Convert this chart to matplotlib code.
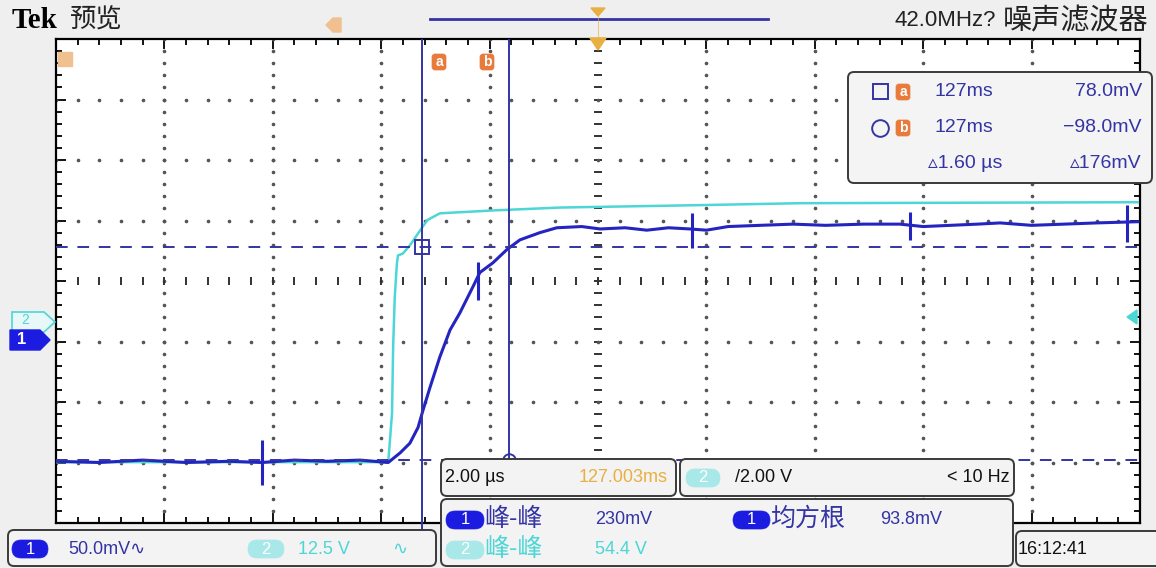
import matplotlib.pyplot as plt
from matplotlib.patches import FancyBboxPatch, Polygon
import numpy as np

plt.rcParams['font.family'] = ['Liberation Sans', 'Noto Sans CJK SC', 'DejaVu Sans']

# scope settings
time_per_div = 2.0      # us / div
ch1_per_div = 50.0      # mV / div
ch2_per_div = 12.5      # V / div
ch1_offset = -1.0       # div
ch2_offset = -0.65      # div

# channel 1 trace (us, mV)
ch1_t = [-10.0, -9.2, -8.4, -7.6, -6.8, -6.2, -5.6, -5.0, -4.39, -3.87, -3.65, -3.47, -3.32,
         -3.23, -3.10, -2.92, -2.73, -2.55, -2.31, -2.18, -1.94, -1.68, -1.44, -1.07, -0.76,
         -0.3, 0.04, 0.5, 0.9, 1.3, 1.70, 2.0, 2.4, 2.99, 3.6, 4.2, 4.9, 5.57, 6.0, 6.5, 7.0,
         7.42, 8.0, 8.6, 9.2, 9.96]
ch1_mv = [-99, -100, -98, -100, -99, -100, -98, -99, -98, -100, -92, -84, -71,
          -57, -38, -13, 9.5, 23.5, 45, 57, 65, 76, 84, 90, 94,
          95, 93, 94, 92, 94, 93, 92, 95, 96, 97, 96, 97, 97, 95, 96, 97,
          98, 96, 97, 98, 99]

# glitches on channel 1 (us, low mV, high mV)
ch1_spike_t = [-6.2, -2.21, 1.73, 5.76, 9.76]
ch1_spike_lo = [-119, 34, 77, 84, 82]
ch1_spike_hi = [-81, 66, 106, 107, 113]

# channel 2 trace (us, V)
ch2_t = [-10.0, -3.87, -3.80, -3.78, -3.75, -3.71, -3.69, -3.60, -3.47, -3.28, -3.15,
         -2.92, -2.60, -1.94, -0.70, 1.88, 3.73, 9.96]
ch2_v = [-29.3, -29.3, -19.2, -5.6, 4.8, 11.8, 13.4, 13.8, 15.5, 18.6, 20.7,
         22.1, 22.3, 22.7, 23.3, 23.8, 24.2, 24.4]

cursor_t = [-3.25, -1.65]
cursor_mv = [78.0, -98.0]

BLUE = '#2424c0'
CUR = '#3434a4'
CYAN = '#4cd6d6'
ORANGE = '#e87a3c'
GOLD = '#e8b040'
BG = '#efefef'

W, H = 1156, 568
L, R, T, B = 56, 1140, 39, 523

fig = plt.figure(figsize=(W / 100, H / 100), dpi=100, facecolor=BG)
ax = fig.add_axes([L / W, 1 - B / H, (R - L) / W, (B - T) / H])
ax.set_facecolor('white')
ax.set_xlim(-10, 10)
ax.set_ylim(-4, 4)
ax.set_xticks(np.arange(-10, 10.1, 2))
ax.set_xticks(np.arange(-10, 10.1, 0.4), minor=True)
ax.set_yticks(np.arange(-4, 4.1, 1))
ax.set_yticks(np.arange(-4, 4.1, 0.2), minor=True)
ax.tick_params(which='both', direction='in', top=True, right=True,
               labelbottom=False, labelleft=False, color='black', width=1.3)
ax.tick_params(which='major', length=7)
ax.tick_params(which='minor', length=4)
for s in ax.spines.values():
    s.set_linewidth(1.6)

# dotted graticule
for xv in np.arange(-8, 9, 2):
    ys = np.arange(-4, 4.01, 0.2)
    if xv == 0:
        ax.plot([0] * len(ys), ys, ls='none', marker='_', ms=6, mew=1.4, color='#333333')
    else:
        ax.plot([xv] * len(ys), ys, ls='none', marker='o', ms=1.6, color='#555555')
for yv in np.arange(-3, 4, 1):
    xs = np.arange(-10, 10.01, 0.4)
    if yv == 0:
        ax.plot(xs, [0] * len(xs), ls='none', marker='|', ms=6, mew=1.4, color='#333333')
    else:
        ax.plot(xs, [yv] * len(xs), ls='none', marker='o', ms=1.6, color='#555555')

# traces
ch2_div = [v / ch2_per_div + ch2_offset for v in ch2_v]
ch1_div = [v / ch1_per_div + ch1_offset for v in ch1_mv]
ax.plot(ch2_t, ch2_div, color=CYAN, lw=1.8, zorder=3)
ax.plot(ch1_t, ch1_div, color=BLUE, lw=2.2, zorder=4)
ax.vlines(ch1_spike_t,
          [v / ch1_per_div + ch1_offset for v in ch1_spike_lo],
          [v / ch1_per_div + ch1_offset for v in ch1_spike_hi],
          color=BLUE, lw=2.2, zorder=4)

# cursors
cur_div = [v / ch1_per_div + ch1_offset for v in cursor_mv]
ax.vlines(cursor_t[0], -4.12, 4, color=CUR, lw=1.4, zorder=5, clip_on=False)
ax.vlines(cursor_t[1], cur_div[1], 4, color=CUR, lw=1.4, zorder=5)
for y in cur_div:
    ax.axhline(y, color=CUR, lw=1.4, ls=(0, (6, 5)), zorder=5)
ax.plot(cursor_t[0], cur_div[0], marker='s', ms=10, mfc='none', mec=CUR, mew=1.4, zorder=6)
ax.plot(cursor_t[1], cur_div[1], marker='o', ms=9, mfc='none', mec=CUR, mew=1.4, zorder=6,
        clip_on=False)

# overlay in pixel coordinates
ov = fig.add_axes([0, 0, 1, 1], zorder=5)
ov.set_xlim(0, W)
ov.set_ylim(H, 0)
ov.axis('off')
ov.patch.set_alpha(0)


def box(x0, y0, x1, y1, fc='#f3f3f3', ec='#3a3a3a', r=6, lw=1.4):
    ov.add_patch(FancyBboxPatch((x0, y0), x1 - x0, y1 - y0,
                                boxstyle=f'round,pad=0,rounding_size={r}',
                                fc=fc, ec=ec, lw=lw))


def pill(x0, x1, yc, label, fc):
    box(x0, yc - 9, x1, yc + 9, fc=fc, ec=fc, r=9, lw=0.5)
    ov.text((x0 + x1) / 2, yc, label, color='white', fontsize=12, ha='center', va='center')


def badge(xc, yc, label):
    box(xc - 7, yc - 8, xc + 7, yc + 8, fc=ORANGE, ec=ORANGE, r=3, lw=0.5)
    ov.text(xc, yc, label, color='white', fontsize=10, ha='center', va='center', weight='bold')


# header
ov.text(12, 20, 'Tek', family='Liberation Serif', weight='bold', fontsize=21, va='center')
ov.text(70, 20, '预览', fontsize=19, va='center', color='#222222')
ov.text(1148, 21, '噪声滤波器', fontsize=21, ha='right', va='center', color='#222222')
ov.text(996, 21, '42.0MHz?', fontsize=16, ha='right', va='center', color='#222222')
ov.plot([430, 768], [19, 19], color=CUR, lw=2)
ov.add_patch(Polygon([[591, 8], [605, 8], [598, 16]], fc=GOLD, ec=GOLD))
ov.plot([598, 598], [14, 38], color=GOLD, lw=0.8, alpha=0.6)
ov.add_patch(Polygon([[590, 38], [606, 38], [598, 50]], fc=GOLD, ec=GOLD))
ov.add_patch(Polygon([[326, 25], [333, 18], [341, 18], [341, 32], [333, 32]], fc='#f0c090', ec='#f0c090'))
ov.add_patch(Polygon([[58, 52], [72, 52], [72, 66], [58, 66]], fc='#f0c090', ec='#f0c090'))
badge(439, 62, 'a')
badge(487, 62, 'b')

# channel markers
ov.add_patch(Polygon([[12, 312], [44, 312], [55, 322], [44, 332], [12, 332]],
                     fc='#e8f8f8', ec=CYAN, lw=1.2))
ov.text(25, 320, '2', color=CYAN, fontsize=10, ha='center', va='center')
ov.add_patch(Polygon([[10, 330], [40, 330], [50, 340], [40, 350], [10, 350]], fc='#1c1ce0', ec='#1c1ce0'))
ov.text(22, 340, '1', color='white', fontsize=12, ha='center', va='center', weight='bold')
ov.add_patch(Polygon([[1127, 317], [1137, 310], [1137, 324]], fc=CYAN, ec=CYAN))

# cursor readout
box(848, 72, 1152, 183, fc='#f4f4f4')
ov.add_patch(FancyBboxPatch((873, 84), 15, 15, boxstyle='square,pad=0', fc='none', ec=CUR, lw=1.4))
ov.plot(880, 128, marker='o', ms=12, mfc='none', mec=CUR, mew=1.4)
badge(903, 92, 'a')
badge(903, 128, 'b')
ov.text(935, 92, '127ms', color=CUR, fontsize=14, va='center')
ov.text(935, 128, '127ms', color=CUR, fontsize=14, va='center')
ov.text(928, 163, '▵1.60 µs', color=CUR, fontsize=14, va='center')
ov.text(1142, 92, '78.0mV', color=CUR, fontsize=14, va='center', ha='right')
ov.text(1142, 128, '−98.0mV', color=CUR, fontsize=14, va='center', ha='right')
ov.text(1142, 163, '▵176mV', color=CUR, fontsize=14, va='center', ha='right')

# bottom status boxes
box(8, 530, 436, 566)
pill(12, 48, 549, '1', '#1c1ce0')
ov.text(68, 549, '50.0mV∿', color=CUR, fontsize=13, va='center')
pill(248, 284, 549, '2', '#a8e8e8')
ov.text(298, 549, '12.5 V', color=CYAN, fontsize=13, va='center')
ov.text(392, 549, '∿', color=CYAN, fontsize=13, va='center')

box(441, 459, 676, 496)
ov.text(445, 478, '2.00 µs', color='#111111', fontsize=13, va='center')
ov.text(668, 478, '127.003ms', color=GOLD, fontsize=13, va='center', ha='right')

box(680, 459, 1014, 496)
pill(686, 720, 478, '2', '#a8e8e8')
ov.text(735, 478, '/2.00 V', color='#111111', fontsize=13, va='center')
ov.text(1010, 478, '< 10 Hz', color='#111111', fontsize=13, va='center', ha='right')

box(441, 499, 1013, 566)
pill(446, 484, 520, '1', '#1c1ce0')
ov.text(484, 519, '峰-峰', color=CUR, fontsize=18, va='center')
ov.text(595, 520, '230mV', color=CUR, fontsize=13, va='center')
pill(733, 770, 520, '1', '#1c1ce0')
ov.text(770, 519, '均方根', color=CUR, fontsize=18, va='center')
ov.text(880, 520, '93.8mV', color=CUR, fontsize=13, va='center')
pill(446, 484, 550, '2', '#a8e8e8')
ov.text(484, 549, '峰-峰', color=CYAN, fontsize=18, va='center')
ov.text(595, 550, '54.4 V', color=CYAN, fontsize=13, va='center')

box(1016, 531, 1170, 566)
ov.text(1018, 549, '16:12:41', color='#111111', fontsize=13, va='center')

fig.savefig('out.png', dpi=100, facecolor=BG)
